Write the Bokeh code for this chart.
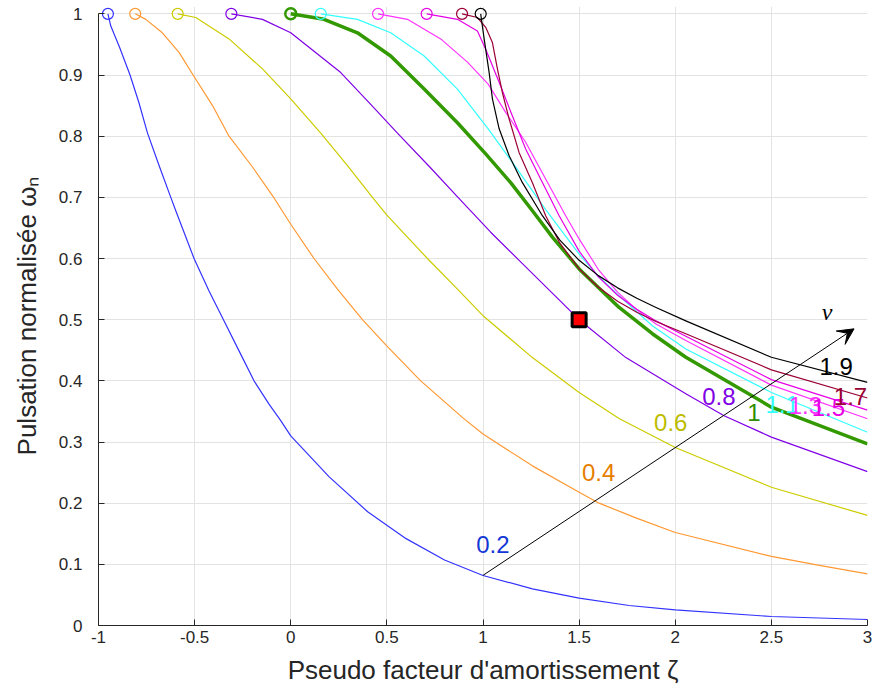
from bokeh.plotting import figure
from bokeh.models import Range1d, FixedTicker, NumeralTickFormatter, Arrow, VeeHead, Label
from bokeh.embed import file_html
from bokeh.resources import INLINE

# ---- data ----
nu_values = ["0.2", "0.4", "0.6", "0.8", "1", "1.1", "1.3", "1.5", "1.7", "1.9"]
line_colors = ["#3333FF", "#FF9933", "#CCCC00", "#8000E6", "#339900",
               "#33FFFF", "#FF33FF", "#E600E6", "#990033", "#000000"]
label_colors = ["#1438D6", "#E67E00", "#BDBD00", "#8000E6", "#2E8F00",
                "#33FFFF", "#FF33FF", "#E600E6", "#990033", "#000000"]

x_02 = [-0.951, -0.936, -0.89, -0.836, -0.79, -0.745, -0.685, -0.624, -0.598, -0.503, -0.425, -0.35, -0.269, -0.191, -0.113, -0.052, 0.0, 0.2, 0.4, 0.6, 0.8, 1.0, 1.257, 1.5, 1.76, 2.0, 2.5, 3.0]
y_02 = [1.0, 0.98, 0.945, 0.9, 0.855, 0.805, 0.752, 0.7, 0.678, 0.6, 0.547, 0.5, 0.449, 0.4, 0.362, 0.335, 0.31, 0.243, 0.186, 0.142, 0.107, 0.0817, 0.06, 0.0447, 0.0327, 0.0256, 0.0147, 0.0098]

x_04 = [-0.809, -0.754, -0.668, -0.581, -0.508, -0.407, -0.321, -0.2, -0.087, 0.0, 0.121, 0.243, 0.373, 0.498, 0.676, 0.897, 1.0, 1.257, 1.5, 1.604, 1.795, 2.0, 2.5, 2.757, 3.0]
y_04 = [1.0, 0.991, 0.969, 0.937, 0.9, 0.85, 0.8, 0.75, 0.699, 0.656, 0.6, 0.55, 0.5, 0.4575, 0.4, 0.339, 0.313, 0.261, 0.218, 0.2, 0.176, 0.152, 0.113, 0.098, 0.0845]

x_06 = [-0.588, -0.494, -0.321, -0.147, 0.0, 0.156, 0.295, 0.425, 0.5, 0.711, 0.867, 1.0, 1.257, 1.5, 1.71, 2.0, 2.5, 3.0]
y_06 = [1.0, 0.994, 0.959, 0.91, 0.861, 0.805, 0.752, 0.7, 0.671, 0.6, 0.55, 0.5065, 0.438, 0.381, 0.338, 0.291, 0.226, 0.18]

x_08 = [-0.309, -0.147, 0.0, 0.26, 0.416, 0.555, 0.728, 0.87, 0.936, 1.04, 1.188, 1.5, 1.743, 2.055, 2.254, 2.5, 3.0]
y_08 = [1.0, 0.991, 0.969, 0.904, 0.852, 0.805, 0.748, 0.7, 0.678, 0.643, 0.597, 0.5, 0.438, 0.379, 0.343, 0.308, 0.2516]

x_10 = [0.0, 0.173, 0.347, 0.52, 0.694, 0.867, 1.014, 1.144, 1.257, 1.361, 1.5, 1.708, 1.881, 2.055, 2.5, 3.0]
y_10 = [1.0, 0.991, 0.969, 0.931, 0.877, 0.822, 0.771, 0.724, 0.678, 0.635, 0.583, 0.52, 0.477, 0.4385, 0.357, 0.297]

x_11 = [0.156, 0.347, 0.52, 0.694, 0.867, 1.027, 1.153, 1.326, 1.5, 1.6, 1.708, 1.881, 2.055, 2.5, 3.0]
y_11 = [1.0, 0.991, 0.969, 0.931, 0.877, 0.812, 0.757, 0.68, 0.607, 0.571, 0.539, 0.49, 0.452, 0.381, 0.316]

x_13 = [0.454, 0.607, 0.78, 0.919, 1.027, 1.118, 1.222, 1.326, 1.43, 1.5, 1.6, 1.7, 1.8, 1.9, 2.055, 2.5, 3.0]
y_13 = [1.0, 0.991, 0.959, 0.921, 0.885, 0.839, 0.79, 0.73, 0.67, 0.632, 0.582, 0.545, 0.516, 0.493, 0.466, 0.393, 0.338]

x_15 = [0.707, 0.867, 0.971, 1.014, 1.084, 1.153, 1.222, 1.292, 1.396, 1.5, 1.6, 1.7, 1.8, 1.9, 2.055, 2.5, 3.0]
y_15 = [1.0, 0.991, 0.972, 0.942, 0.888, 0.833, 0.779, 0.735, 0.67, 0.612, 0.57, 0.54, 0.517, 0.498, 0.473, 0.402, 0.352]

x_17 = [0.891, 0.971, 1.014, 1.049, 1.075, 1.101, 1.136, 1.188, 1.257, 1.326, 1.4, 1.5, 1.6, 1.7, 1.8, 1.9, 2.055, 2.5, 3.0]
y_17 = [1.0, 0.994, 0.978, 0.953, 0.91, 0.871, 0.828, 0.773, 0.724, 0.67, 0.625, 0.583, 0.553, 0.53, 0.512, 0.497, 0.477, 0.418, 0.372]

x_19 = [0.988, 1.006, 1.032, 1.049, 1.084, 1.136, 1.205, 1.309, 1.4, 1.5, 1.6, 1.7, 1.8, 1.9, 2.055, 2.5, 3.0]
y_19 = [1.0, 0.959, 0.904, 0.861, 0.812, 0.768, 0.724, 0.67, 0.63, 0.597, 0.572, 0.552, 0.535, 0.52, 0.498, 0.4385, 0.3976]

curves_x = [x_02, x_04, x_06, x_08, x_10, x_11, x_13, x_15, x_17, x_19]
curves_y = [y_02, y_04, y_06, y_08, y_10, y_11, y_13, y_15, y_17, y_19]

# reference point (red square)
ref_x = [1.5]
ref_y = [0.5]

# curve-label positions (data units)
lab_x = [0.965, 1.515, 1.89, 2.14, 2.375, 2.47, 2.59, 2.71, 2.825, 2.75]
lab_y = [0.118, 0.237, 0.318, 0.361, 0.335, 0.347, 0.345, 0.343, 0.36, 0.409]

x_ticks = [-1, -0.5, 0, 0.5, 1, 1.5, 2, 2.5, 3]
y_ticks = [0, 0.1, 0.2, 0.3, 0.4, 0.5, 0.6, 0.7, 0.8, 0.9, 1]

FONT = "Liberation Sans"

p = figure(width=876, height=700, output_backend="svg", toolbar_location=None,
           x_range=Range1d(-1, 3), y_range=Range1d(0, 1.012),
           min_border_left=98, min_border_right=9, min_border_top=6, min_border_bottom=75)
p.outline_line_color = None
p.background_fill_color = "white"
p.border_fill_color = "white"

for ax in (p.xaxis[0], p.yaxis[0]):
    ax.axis_line_color = "#262626"
    ax.axis_line_width = 1
    ax.major_tick_line_color = "#262626"
    ax.major_tick_in = 6
    ax.major_tick_out = 0
    ax.minor_tick_line_color = None
    ax.major_label_text_font = FONT
    ax.major_label_text_font_size = "17px"
    ax.major_label_text_color = "#262626"
    ax.axis_label_text_font = FONT
    ax.axis_label_text_font_size = "26px"
    ax.axis_label_text_font_style = "normal"
    ax.axis_label_text_color = "#262626"
    ax.formatter = NumeralTickFormatter(format="0.[0]")

p.xaxis.ticker = FixedTicker(ticks=x_ticks)
p.yaxis.ticker = FixedTicker(ticks=y_ticks)
p.yaxis.bounds = (0, 1)
p.xaxis.major_label_standoff = 5
p.yaxis.major_label_standoff = 16
p.xaxis.axis_label = "Pseudo facteur d'amortissement \u03b6"
p.yaxis.axis_label = "Pulsation normalis\u00e9e \u03c9\u2099"
p.xaxis.axis_label_standoff = 9
p.yaxis.axis_label_standoff = 14

p.xgrid.ticker = FixedTicker(ticks=x_ticks)
p.ygrid.ticker = FixedTicker(ticks=y_ticks)
p.grid.grid_line_color = "#E3E3E3"
p.grid.grid_line_width = 1

for i, (xs, ys) in enumerate(zip(curves_x, curves_y)):
    w = 3.5 if nu_values[i] == "1" else 1.2
    p.line(xs, ys, line_color=line_colors[i], line_width=w, line_join="round")
    p.scatter([xs[0]], [ys[0]], marker="circle", size=11, fill_color=None,
              line_color=line_colors[i], line_width=(2.5 if nu_values[i] == "1" else 1.2))

p.scatter(ref_x, ref_y, marker="square", size=14, fill_color="#FF0000",
          line_color="black", line_width=3)

p.add_layout(Arrow(end=VeeHead(size=16, fill_color="black", line_color="black"),
                   x_start=1.0, y_start=0.082, x_end=2.93, y_end=0.485,
                   line_color="black", line_width=1))

for i, t in enumerate(nu_values):
    p.add_layout(Label(x=lab_x[i], y=lab_y[i], text=t, text_color=label_colors[i],
                       text_font=FONT, text_font_size="24px"))

p.add_layout(Label(x=2.762, y=0.492, text="\u03bd", text_font="Liberation Serif",
                   text_font_style="italic", text_font_size="24px", text_color="black"))

open("out.html", "w").write(file_html(p, INLINE))
